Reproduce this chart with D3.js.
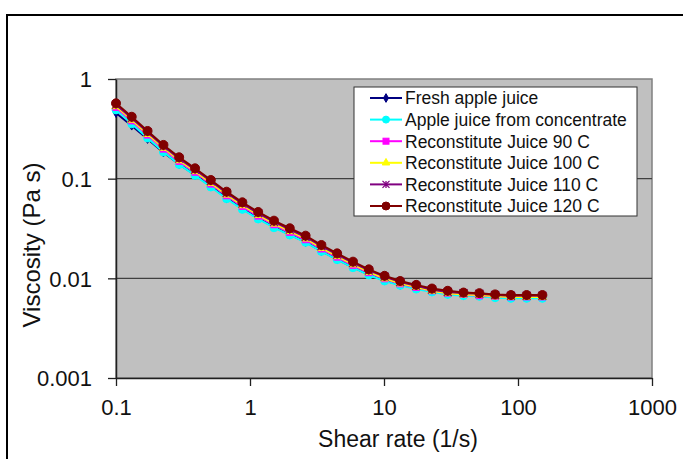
<!DOCTYPE html>
<html>
<head>
<meta charset="utf-8">
<script src="https://cdn.jsdelivr.net/npm/d3@7"></script>
<style>
  html, body { margin: 0; padding: 0; background: #fff; }
  svg { display: block; font-family: "Liberation Sans", Arial, sans-serif; }
</style>
</head>
<body>
<svg id="chart" width="683" height="459"></svg>
<script>
// Shear rates (1/s), log-spaced sweep
const shearRate = [0.1, 0.131, 0.172, 0.226, 0.296, 0.389, 0.510, 0.669, 0.877, 1.151,
  1.51, 1.98, 2.60, 3.41, 4.47, 5.87, 7.70, 10.1, 13.2, 17.4,
  22.8, 29.9, 39.2, 51.5, 67.5, 88.6, 116, 152];

// Viscosity (Pa s) for each sample
const freshJuice = [0.455, 0.340, 0.250, 0.183, 0.140, 0.109, 0.0840, 0.0640, 0.0500, 0.0400,
  0.0328, 0.0275, 0.0232, 0.0188, 0.0155, 0.0129, 0.0109, 0.0095, 0.0086, 0.0080,
  0.0074, 0.0070, 0.0068, 0.0067, 0.0065, 0.0064, 0.0064, 0.0064];
const concentrateJuice = [0.490, 0.355, 0.256, 0.185, 0.139, 0.108, 0.0825, 0.0629, 0.0492, 0.0394,
  0.0322, 0.0272, 0.0230, 0.0186, 0.0154, 0.0128, 0.0108, 0.0094, 0.0085, 0.0078,
  0.0073, 0.0069, 0.0067, 0.0066, 0.0064, 0.0063, 0.0063, 0.0063];
const recon90 = [0.519, 0.380, 0.274, 0.198, 0.149, 0.116, 0.0883, 0.0673, 0.0527, 0.0421,
  0.0345, 0.0289, 0.0244, 0.0197, 0.0163, 0.0135, 0.0114, 0.0099, 0.0088, 0.0081,
  0.0075, 0.0071, 0.0069, 0.0067, 0.0066, 0.0065, 0.0065, 0.0065];
const recon100 = [0.533, 0.391, 0.281, 0.204, 0.153, 0.119, 0.0907, 0.0692, 0.0541, 0.0433,
  0.0354, 0.0297, 0.0251, 0.0202, 0.0167, 0.0138, 0.0116, 0.0100, 0.0089, 0.0082,
  0.0075, 0.0071, 0.0069, 0.0068, 0.0066, 0.0065, 0.0065, 0.0065];
const recon110 = [0.553, 0.405, 0.292, 0.211, 0.159, 0.123, 0.0941, 0.0718, 0.0562, 0.0449,
  0.0368, 0.0308, 0.0260, 0.0210, 0.0173, 0.0143, 0.0120, 0.0104, 0.0092, 0.0084,
  0.0077, 0.0073, 0.0071, 0.0070, 0.0068, 0.0067, 0.0067, 0.0067];
const recon120 = [0.570, 0.418, 0.301, 0.218, 0.164, 0.127, 0.0970, 0.0740, 0.0579, 0.0463,
  0.0379, 0.0318, 0.0268, 0.0216, 0.0178, 0.0147, 0.0123, 0.0106, 0.0094, 0.0086,
  0.0079, 0.0075, 0.0072, 0.0071, 0.0069, 0.0068, 0.0068, 0.0068];

const seriesNames = ["Fresh apple juice", "Apple juice from concentrate", "Reconstitute Juice 90 C",
  "Reconstitute Juice 100 C", "Reconstitute Juice 110 C", "Reconstitute Juice 120 C"];
const seriesValues = [freshJuice, concentrateJuice, recon90, recon100, recon110, recon120];
const seriesColors = ["#000080", "#00FFFF", "#FF00FF", "#FFFF00", "#800080", "#800000"];
const seriesMarkers = ["diamond", "circle", "square", "triangle", "star", "circle"];

const xTicks = [0.1, 1, 10, 100, 1000];
const xTickLabels = ["0.1", "1", "10", "100", "1000"];
const yTicks = [0.001, 0.01, 0.1, 1];
const yTickLabels = ["0.001", "0.01", "0.1", "1"];

const svg = d3.select("#chart");
const plot = { left: 116, right: 652, top: 79, bottom: 378 };

const x = d3.scaleLog().domain([0.1, 1000]).range([plot.left, plot.right]);
const y = d3.scaleLog().domain([0.001, 1]).range([plot.bottom, plot.top]);

// outer chart frame
svg.append("rect").attr("x", 7).attr("y", 15).attr("width", 700).attr("height", 480)
  .attr("fill", "#fff").attr("stroke", "#000").attr("stroke-width", 2);

// plot area
svg.append("rect").attr("x", plot.left).attr("y", plot.top)
  .attr("width", plot.right - plot.left).attr("height", plot.bottom - plot.top)
  .attr("fill", "#C0C0C0").attr("stroke", "#808080").attr("stroke-width", 1.5);

// horizontal gridlines
svg.append("g").selectAll("line").data(yTicks.slice(1, 3)).join("line")
  .attr("x1", plot.left).attr("x2", plot.right)
  .attr("y1", d => y(d)).attr("y2", d => y(d))
  .attr("stroke", "#404040").attr("stroke-width", 1.3);

// y axis
const yAxis = d3.axisLeft(y).tickValues(yTicks).tickFormat((d, i) => yTickLabels[i])
  .tickSizeInner(8).tickSizeOuter(0).tickPadding(16);
const gy = svg.append("g").attr("transform", `translate(${plot.left},0)`).call(yAxis);
gy.select(".domain").attr("stroke", "#202020").attr("stroke-width", 1.5);
gy.selectAll(".tick line").attr("stroke", "#202020").attr("stroke-width", 1.3);
gy.selectAll(".tick text").attr("font-size", 22).attr("fill", "#111")
  .attr("font-family", "Liberation Sans, Arial, sans-serif").attr("dy", "0.36em");

// x axis
const xAxis = d3.axisBottom(x).tickValues(xTicks).tickFormat((d, i) => xTickLabels[i])
  .tickSizeInner(8).tickSizeOuter(0).tickPadding(13);
const gx = svg.append("g").attr("transform", `translate(0,${plot.bottom})`).call(xAxis);
gx.select(".domain").attr("stroke", "#202020").attr("stroke-width", 1.5);
gx.selectAll(".tick line").attr("stroke", "#202020").attr("stroke-width", 1.3);
gx.selectAll(".tick text").attr("font-size", 22).attr("fill", "#111")
  .attr("font-family", "Liberation Sans, Arial, sans-serif");

// axis titles
svg.append("text").attr("x", 398).attr("y", 447).attr("text-anchor", "middle")
  .attr("font-size", 23).attr("fill", "#111").text("Shear rate (1/s)");
svg.append("text").attr("transform", "translate(40,245) rotate(-90)").attr("text-anchor", "middle")
  .attr("font-size", 24).attr("fill", "#111").text("Viscosity (Pa s)");

// marker drawing
function drawMarker(g, kind, color, size) {
  const s = size;
  if (kind === "circle") {
    g.append("circle").attr("r", s / 2).attr("fill", color).attr("stroke", color);
  } else if (kind === "square") {
    g.append("rect").attr("x", -s / 2 + 0.5).attr("y", -s / 2 + 0.5).attr("width", s - 1).attr("height", s - 1)
      .attr("fill", color).attr("stroke", color);
  } else if (kind === "diamond") {
    g.append("path").attr("d", d3.symbol(d3.symbolDiamond, s * s * 0.45)()).attr("fill", color).attr("stroke", color);
  } else if (kind === "triangle") {
    g.append("path").attr("d", d3.symbol(d3.symbolTriangle, s * s * 0.5)()).attr("fill", color).attr("stroke", color);
  } else if (kind === "star") {
    const r = s / 2;
    g.append("path")
      .attr("d", `M${-r},${-r}L${r},${r}M${-r},${r}L${r},${-r}M0,${-r}L0,${r}`)
      .attr("stroke", color).attr("stroke-width", 1.3).attr("fill", "none");
  }
}

const line = d3.line().x(d => x(d[0])).y(d => y(d[1]));
const markerSizes = [7, 8, 7, 8, 8, 9];

seriesValues.forEach((vals, si) => {
  const pts = shearRate.map((sr, i) => [sr, vals[i]]);
  const g = svg.append("g");
  g.append("path").datum(pts).attr("d", line)
    .attr("fill", "none").attr("stroke", seriesColors[si]).attr("stroke-width", 2);
  g.selectAll("g.pt").data(pts).join("g").attr("class", "pt")
    .attr("transform", d => `translate(${x(d[0])},${y(d[1])})`)
    .each(function () { drawMarker(d3.select(this), seriesMarkers[si], seriesColors[si], markerSizes[si]); });
});

// legend
const legend = svg.append("g");
legend.append("rect").attr("x", 354).attr("y", 87).attr("width", 283).attr("height", 129)
  .attr("fill", "#fff").attr("stroke", "#333").attr("stroke-width", 1);
seriesNames.forEach((name, i) => {
  const cy = 98 + i * 21.6;
  const row = legend.append("g").attr("transform", `translate(0,${cy})`);
  row.append("line").attr("x1", 370).attr("x2", 402).attr("y1", 0).attr("y2", 0)
    .attr("stroke", seriesColors[i]).attr("stroke-width", 2);
  const mg = row.append("g").attr("transform", "translate(386,0)");
  drawMarker(mg, seriesMarkers[i], seriesColors[i], i === 5 ? 8 : 7);
  row.append("text").attr("x", 405).attr("y", 0).attr("dy", "0.36em")
    .attr("font-size", 17.5).attr("fill", "#111").text(name);
});
</script>
</body>
</html>
